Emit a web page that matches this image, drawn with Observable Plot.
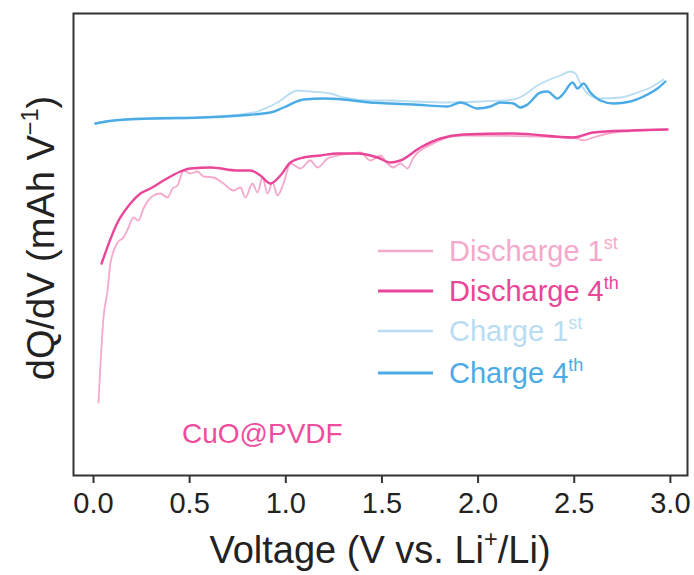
<!DOCTYPE html>
<html><head><meta charset="utf-8">
<script src="https://cdn.jsdelivr.net/npm/d3@7"></script>
<script src="https://cdn.jsdelivr.net/npm/@observablehq/plot@0.6"></script>
<style>
html,body{margin:0;padding:0;background:#fff;}
#chart svg{display:block;}
</style></head><body><div id="chart"></div>
<script>
// ---- data (voltage in V, dQ/dV in arbitrary units) ----
const xTicks = [0.0, 0.5, 1.0, 1.5, 2.0, 2.5, 3.0];

const discharge1V = [0.026,0.052,0.073,0.088,0.125,0.156,0.182,0.208,0.234,0.260,0.312,0.348,0.385,0.411,0.437,0.468,0.504,0.541,0.572,0.624,0.676,0.728,0.764,0.790,0.827,0.853,0.879,0.905,0.931,0.957,0.988,1.024,1.076,1.128,1.165,1.217,1.269,1.336,1.388,1.440,1.492,1.529,1.560,1.596,1.633,1.664,1.700,1.768,1.841,1.924,2.496,2.548,2.600,2.704,2.985];
const discharge1Y = [73,158,185,212,233,238,248,258,255,267,280,282,278,287,290,305,302,304,299,298,292,285,288,278,292,283,298,282,293,280,292,312,307,315,308,317,320,322,323,315,320,312,308,312,307,318,325,332,338,340,338,335,338,343,346];

const discharge4V = [0.042,0.125,0.192,0.244,0.296,0.364,0.452,0.504,0.608,0.749,0.816,0.868,0.920,0.972,1.024,1.092,1.180,1.269,1.373,1.477,1.544,1.596,1.700,1.804,1.924,2.184,2.496,2.600,2.792,2.985];
const discharge4Y = [212,253,272,282,287,295,304,307,308,305,305,300,292,300,313,318,320,322,322,318,313,315,328,337,341,342,338,343,345,346];

const charge1V = [0.010,0.104,0.556,0.764,0.853,0.957,1.061,1.128,1.232,1.300,1.440,1.544,1.664,1.841,2.012,2.184,2.236,2.309,2.361,2.428,2.480,2.506,2.532,2.569,2.636,2.740,2.829,2.897,2.964];
const charge1Y = [352,355,358,361,364,373,385,384,382,378,375,375,374,373,374,376,380,390,395,400,404,402,392,382,377,378,383,388,396];

const charge4V = [0.010,0.104,0.296,0.556,0.764,0.920,0.988,1.092,1.196,1.300,1.440,1.544,1.664,1.841,1.909,1.997,2.064,2.116,2.184,2.220,2.257,2.324,2.361,2.413,2.444,2.491,2.517,2.548,2.584,2.636,2.704,2.792,2.881,2.933,2.974];
const charge4Y = [352,355,357,358,360,363,368,376,377,376,373,372,371,369,373,367,369,373,372,368,371,383,384,377,382,393,387,392,383,375,372,374,381,387,394];

const seriesNames = ["Discharge 1st", "Discharge 4th", "Charge 1st", "Charge 4th"];
const seriesColors = ["#F5A8CB", "#EA4598", "#B8DDF3", "#4AABE6"];
const seriesWidths = [1.8, 2.4, 1.8, 2.4];
const seriesV = [discharge1V, discharge4V, charge1V, charge4V];
const seriesY = [discharge1Y, discharge4Y, charge1Y, charge4Y];
const legendBase = ["Discharge 1", "Discharge 4", "Charge 1", "Charge 4"];
const legendSup = ["st", "th", "st", "th"];

// ---- build table ----
const rows = [];
seriesNames.forEach((s, i) => seriesV[i].forEach((v, j) => rows.push({series: s, v, y: seriesY[i][j]})));

const FONT = "'Liberation Sans', Arial, Helvetica, sans-serif";
const drawOrder = [2, 0, 3, 1];

const plot = Plot.plot({
  width: 694, height: 575,
  marginLeft: 73, marginRight: 7, marginTop: 13, marginBottom: 100,
  style: {fontFamily: FONT, fontSize: "29px", color: "#222", background: "#fff"},
  x: {domain: [-0.104, 3.089]},
  y: {domain: [0, 462], axis: null},
  marks: [
    ...drawOrder.map(i => Plot.line(rows.filter(d => d.series === seriesNames[i]), {
      x: "v", y: "y", stroke: seriesColors[i], strokeWidth: seriesWidths[i], strokeLinejoin: "round", curve: "monotone-x"
    })),
    Plot.frame({stroke: "#333", strokeWidth: 2}),
    Plot.axisX({ticks: xTicks, tickFormat: d3.format(".1f"), tickSize: 8, tickPadding: 9, label: null,
      stroke: "#333", strokeWidth: 2, fontSize: 29, fill: "#222"})
  ]
});
document.getElementById("chart").appendChild(plot);

// ---- rich text helpers ----
const svg = d3.select(plot);
function rich(x, y, parts, {size, fill = "#222", anchor = "start", rotate = 0}) {
  const t = svg.append("text")
    .attr("transform", `translate(${x},${y}) rotate(${rotate})`)
    .attr("text-anchor", anchor)
    .style("font-family", FONT).style("font-size", size + "px").attr("fill", fill);
  let shift = 0;
  parts.forEach(p => {
    const ts = t.append("tspan").text(p.t);
    if (p.italic) ts.style("font-style", "italic");
    const want = p.sup ? -0.42 * size : 0;
    if (want !== shift) { ts.attr("dy", want - shift); shift = want; }
    if (p.sup) ts.style("font-size", (0.62 * size) + "px");
  });
  return t;
}

// axis titles
rich(380, 563, [{t: "Voltage (V vs. Li"}, {t: "+", sup: true}, {t: "/Li)"}], {size: 38, anchor: "middle"});
rich(54, 238, [{t: "dQ/dV (mAh V"}, {t: "\u22121", sup: true}, {t: ")"}], {size: 38, anchor: "middle", rotate: -90});

// legend
const legendY = [251, 291, 331, 373];
seriesNames.forEach((s, i) => {
  svg.append("line").attr("x1", 378).attr("x2", 433).attr("y1", legendY[i]).attr("y2", legendY[i])
    .attr("stroke", seriesColors[i]).attr("stroke-width", seriesWidths[i] + 0.6);
  rich(449, legendY[i] + 10, [{t: legendBase[i]}, {t: legendSup[i], sup: true}], {size: 29, fill: seriesColors[i]});
});

// annotation
rich(182, 443, [{t: "CuO@PVDF"}], {size: 28, fill: "#EE4C9E"});
</script></body></html>
